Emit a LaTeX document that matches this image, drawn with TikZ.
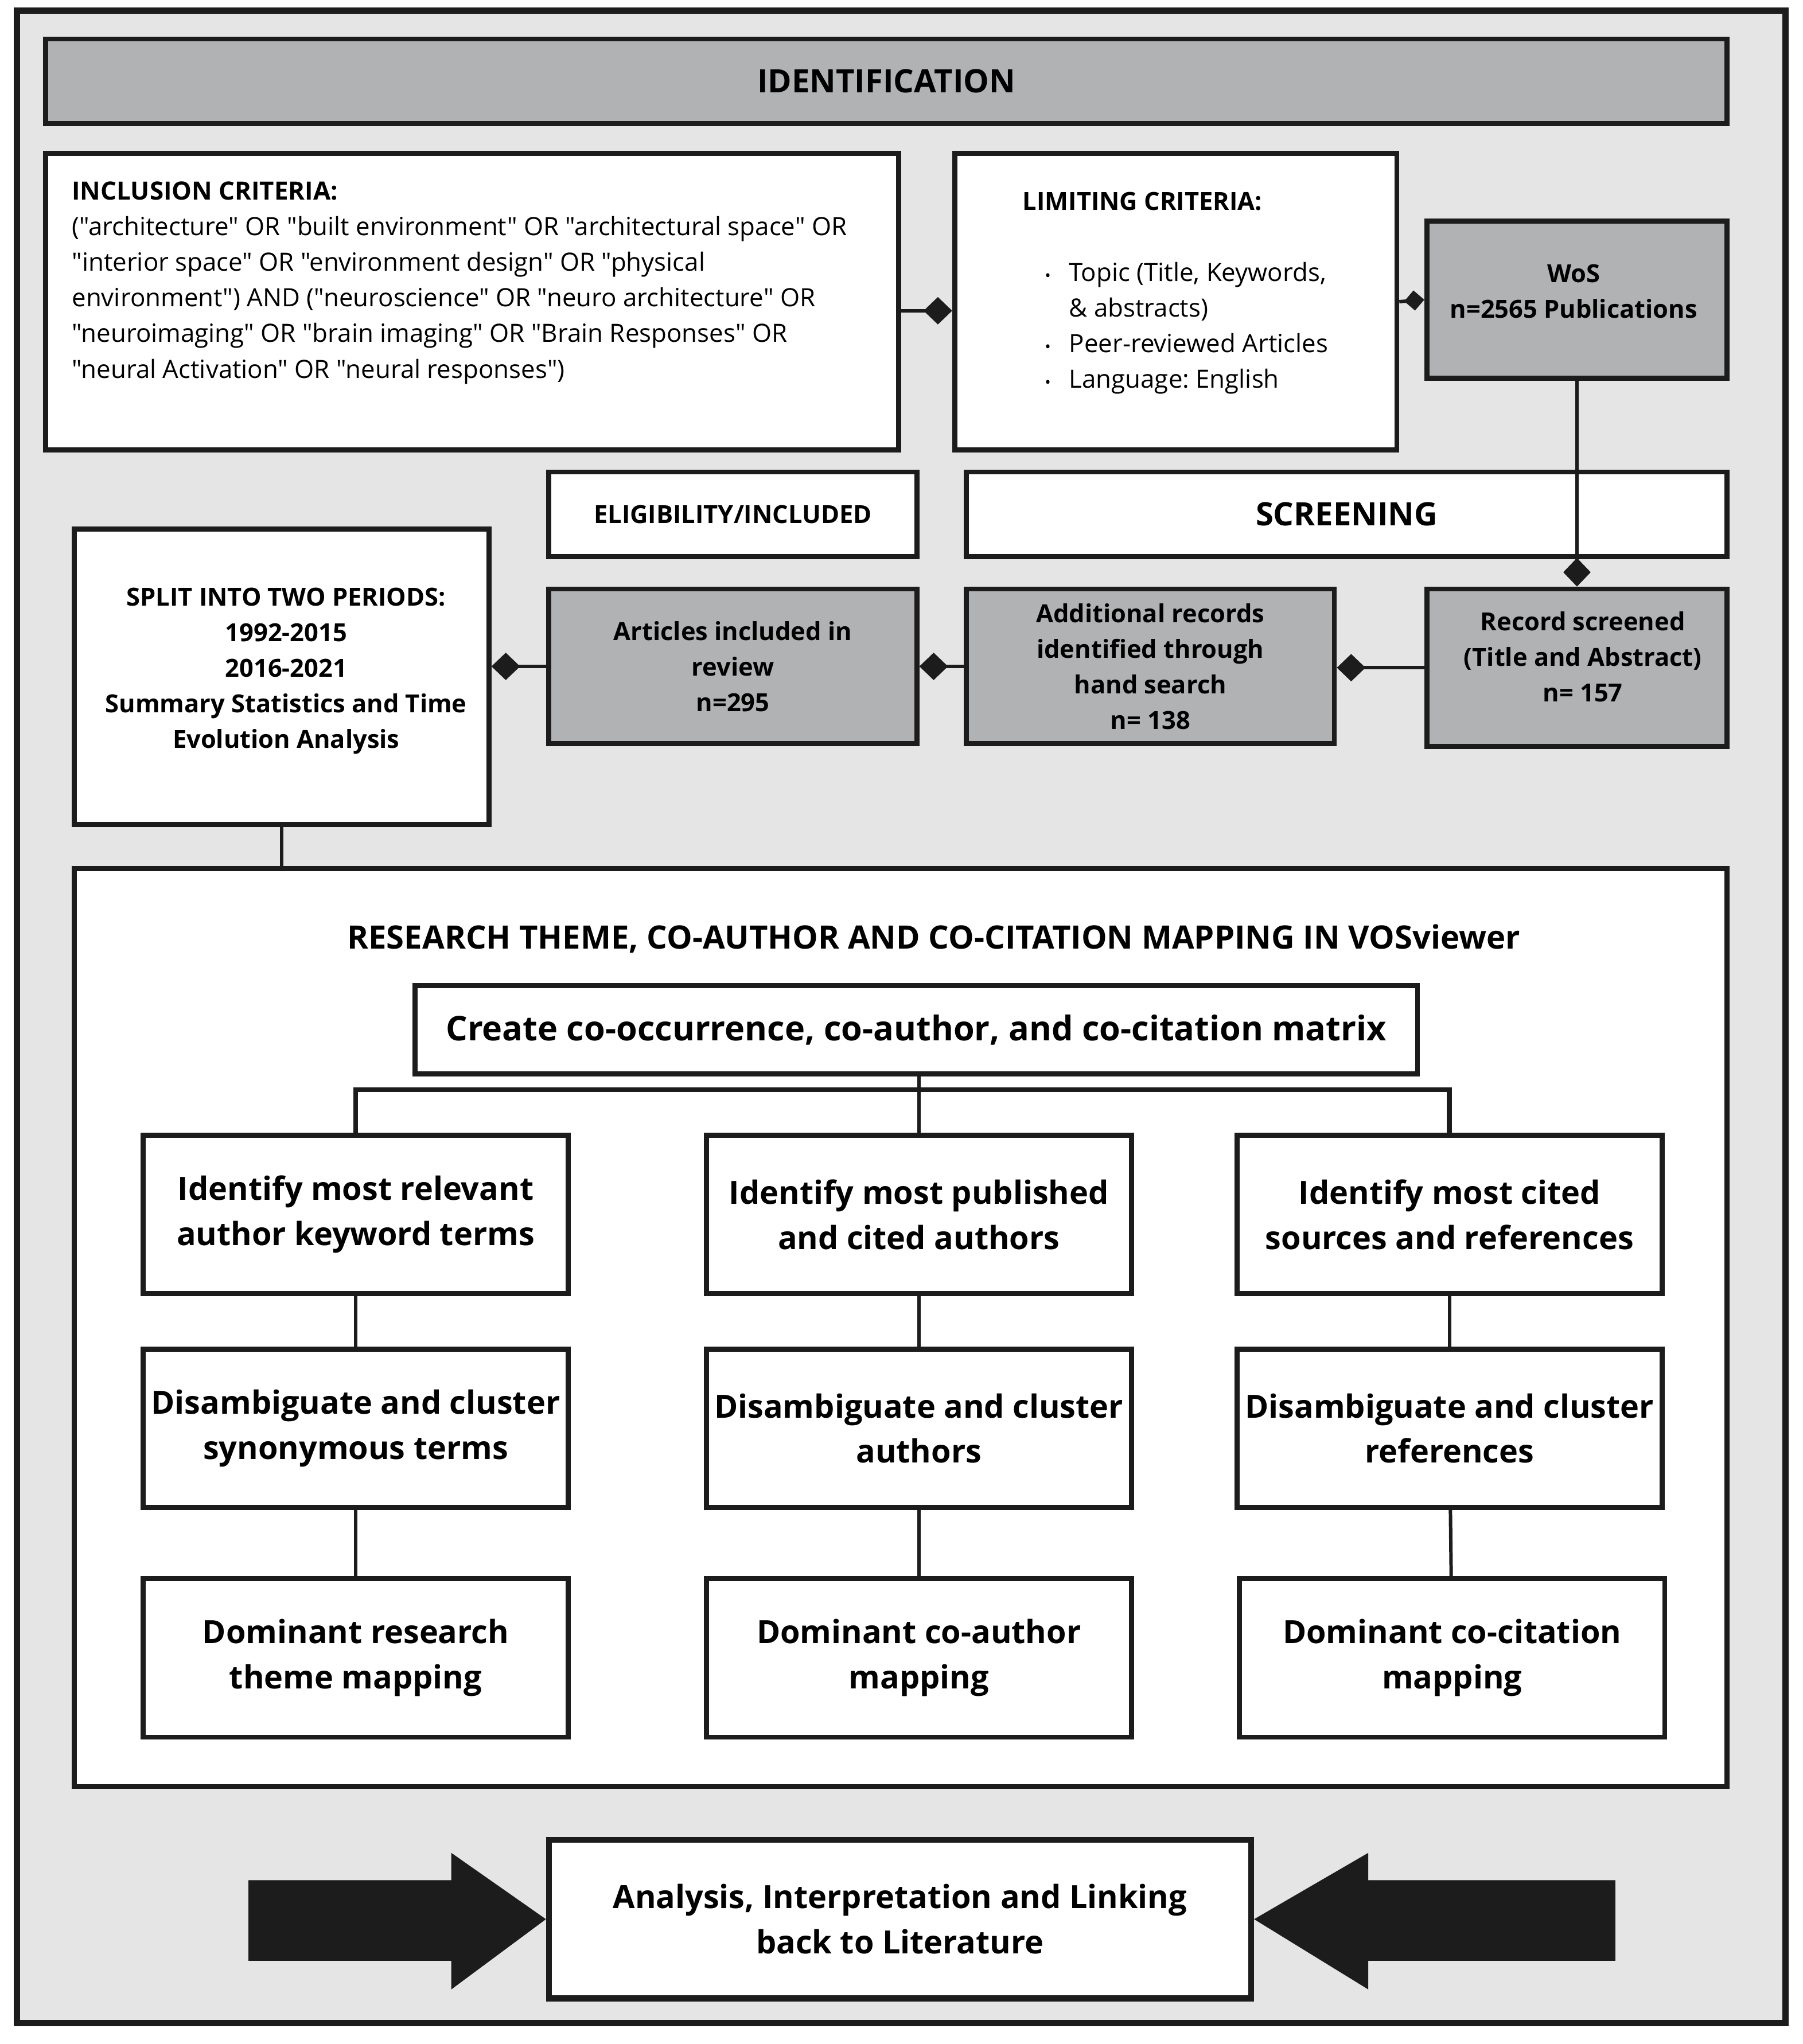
\documentclass[tikz,border=0pt]{standalone}
\usepackage{fontspec}
\setmainfont{Open Sans}[Ligatures=TeXOff]
\usetikzlibrary{arrows.meta}
\frenchspacing

\definecolor{panelgray}{RGB}{229,229,229}
\definecolor{boxgray}{RGB}{177,178,180}
\definecolor{edgeblack}{RGB}{28,28,28}

% font sizes
\newcommand\txtbody{\fontsize{11}{15.6}\selectfont}
\newcommand\txtgray{\bfseries\fontsize{10.9}{15.6}\selectfont}
\newcommand\txthead{\bfseries\fontsize{14.1}{17}\selectfont}
\newcommand\txtstep{\bfseries\fontsize{14}{19.8}\selectfont}

\tikzset{
  box/.style={draw=edgeblack, line width=2.2pt, fill=white, align=center, inner sep=1pt},
  graybox/.style={box, fill=boxgray},
  stepbox/.style={box, minimum width=6.54cm, minimum height=2.44cm, font=\txtstep},
  boxtext/.style={inner sep=0pt, align=center, font=\txtgray},
  conn/.style={draw=edgeblack, line width=1.5pt},
  tip/.style={-{Diamond[length=12.5pt, width=12pt]}},
}

\begin{document}
\begin{tikzpicture}[x=0.02cm, y=-0.02cm]
\useasboundingbox (0,0) rectangle (1386,1572);

% outer panel
\draw[draw=edgeblack, line width=2.8pt, fill=panelgray] (13,8) rectangle (1373,1556);

% identification stage
\node[graybox, minimum width=25.86cm, minimum height=1.3cm, font=\txthead] (ident) at (681.5,62.5) {IDENTIFICATION};

\node[box, minimum width=13.12cm, minimum height=4.56cm] (incl) at (363,232) {};
\node[anchor=west, align=left, inner sep=0pt, font=\txtbody] (incltext) at (55,217.5)
  {\textbf{INCLUSION CRITERIA:}\\
   ("architecture" OR "built environment" OR "architectural space" OR\\
   "interior space" OR "environment design" OR "physical\\
   environment") AND ("neuroscience" OR "neuro architecture" OR\\
   "neuroimaging" OR "brain imaging" OR "Brain Responses" OR\\
   "neural Activation" OR "neural responses")};

\node[box, minimum width=6.8cm, minimum height=4.56cm] (limit) at (904,232) {};
\node[anchor=west, inner sep=0pt, font=\txtgray] (limithead) at (786,155) {LIMITING CRITERIA:};
\node[anchor=west, font=\txtbody, inner sep=0pt] (limitlist) at (803,252)
  {\begin{tabular}{@{}c@{\hspace{8pt}}l@{}}
   {\scriptsize\textbullet} & Topic (Title, Keywords,\\
                            & \& abstracts)\\
   {\scriptsize\textbullet} & Peer-reviewed Articles\\
   {\scriptsize\textbullet} & Language: English
   \end{tabular}};

\node[graybox, minimum width=4.62cm, minimum height=2.42cm] (wos) at (1212.5,230.5) {};
\node[boxtext] (wostext) at (1210,224) {WoS\\n=2565 Publications};

% screening and eligibility
\node[box, minimum width=5.66cm, minimum height=1.3cm, font=\txtgray] (elig) at (563.5,395.5) {ELIGIBILITY/INCLUDED};
\node[box, minimum width=11.7cm, minimum height=1.3cm, font=\txthead] (screen) at (1035.5,395.5) {SCREENING};

\node[box, minimum width=6.38cm, minimum height=4.54cm] (split) at (216.5,520.5) {};
\node[boxtext] (splittext) at (220,516)
  {SPLIT INTO TWO PERIODS:\\1992-2015\\2016-2021\\Summary Statistics and Time\\Evolution Analysis};
\node[graybox, minimum width=5.66cm, minimum height=2.38cm, font=\txtgray] (articles) at (563.5,512.5)
  {Articles included in\\review\\n=295};
\node[graybox, minimum width=5.66cm, minimum height=2.38cm, font=\txtgray] (additional) at (884.5,512.5)
  {Additional records\\identified through\\hand search\\n= 138};
\node[graybox, minimum width=4.62cm, minimum height=2.42cm] (record) at (1212.5,513.5) {};
\node[boxtext] (recordtext) at (1217,505) {Record screened\\(Title and Abstract)\\n= 157};

% mapping in VOSviewer
\node[box, minimum width=25.42cm, minimum height=14.12cm] (mapping) at (692.5,1021) {};
\node[inner sep=0pt, font=\bfseries\fontsize{14.1}{17}\selectfont] (maptitle) at (718,722)
  {RESEARCH THEME, CO-AUTHOR AND CO-CITATION MAPPING IN VOSviewer};
\node[box, minimum width=15.42cm, minimum height=1.36cm, font=\bfseries\fontsize{14.9}{18}\selectfont] (matrix) at (704.5,792)
  {Create co-occurrence, co-author, and co-citation matrix};

\node[stepbox] (terms)   at (273.5,934) {Identify most relevant\\author keyword terms};
\node[stepbox] (authors) at (706.5,934) {Identify most published\\and cited authors};
\node[stepbox] (sources) at (1114.5,934) {Identify most cited\\sources and references};

\node[stepbox] (clterms)   at (273.5,1098.5) {Disambiguate and cluster\\synonymous terms};
\node[stepbox] (clauthors) at (706.5,1098.5) {Disambiguate and cluster\\authors};
\node[stepbox] (clrefs)    at (1114.5,1098.5) {Disambiguate and cluster\\references};

\node[stepbox] (domtheme)  at (273.5,1275) {Dominant research\\theme mapping};
\node[stepbox] (domcoauth) at (706.5,1275) {Dominant co-author\\mapping};
\node[stepbox] (domcocit)  at (1116.5,1275) {Dominant co-citation\\mapping};

% analysis
\node[box, minimum width=10.8cm, minimum height=2.44cm, font=\txtstep, line width=2.6pt] (analysis) at (692,1476)
  {Analysis, Interpretation and Linking\\back to Literature};

% connectors
\draw[conn, tip] ([yshift=-0.14cm]incl.east) -- ([yshift=-0.14cm]limit.west);
\draw[conn, -{Diamond[length=8.8pt, width=8.8pt]}] (limit.east) -- (wos.west);
\draw[conn, tip] (wos.south) -- (record.north);
\draw[conn, tip] (record.west) -- (record.west -| additional.east);
\draw[conn, tip] (additional.west) -- (articles.east);
\draw[conn, tip] (articles.west) -- (articles.west -| split.east);
\draw[conn] (split.south) -- (split.south |- mapping.north);

\coordinate (fork) at (706.5,838);
\draw[conn] (authors.north) -- (authors.north |- matrix.south);
\draw[conn, line width=2.2pt] (terms.north) |- (fork) -| (sources.north);
\draw[conn] (terms) -- (clterms);
\draw[conn] (clterms) -- (domtheme);
\draw[conn] (authors) -- (clauthors);
\draw[conn] (clauthors) -- (domcoauth);
\draw[conn] (sources) -- (clrefs);
\draw[conn] (clrefs) -- (domcocit);

% big arrows into the analysis box
\fill[edgeblack] (191,1446) -- (347,1446) -- (347,1425) -- (analysis.west) -- (347,1530) -- (347,1508) -- (191,1508) -- cycle;
\fill[edgeblack] (1242,1446) -- (1052,1446) -- (1052,1425) -- (analysis.east) -- (1052,1530) -- (1052,1508) -- (1242,1508) -- cycle;
\end{tikzpicture}
\end{document}
